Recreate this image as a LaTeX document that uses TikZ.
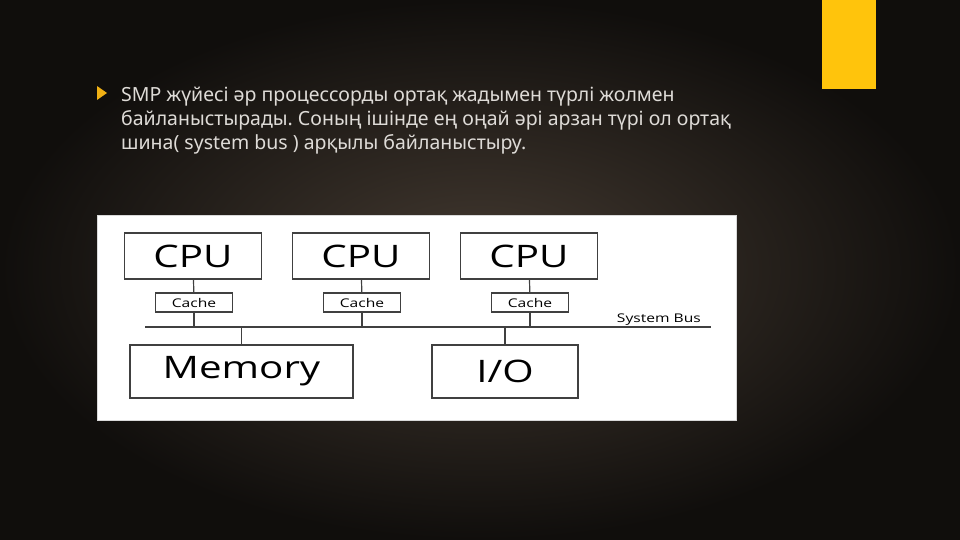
\documentclass[tikz,border=0pt]{standalone}
\usepackage{fontspec}
\usetikzlibrary{calc}
\setmainfont{Noto Sans}
\newfontfamily\diagfont[FakeStretch=1.3]{Open Sans}
\frenchspacing
\definecolor{bgdark}{RGB}{16,14,12}
\definecolor{bgmid}{RGB}{68,58,49}
\definecolor{accent}{RGB}{255,196,12}
\definecolor{bullet}{RGB}{240,176,20}
\definecolor{txt}{RGB}{222,219,215}
\definecolor{edge}{RGB}{64,64,64}

\begin{document}
\begin{tikzpicture}[x=1pt,y=-1pt,
    box/.style={draw=edge, line width=1.2pt, fill=white, inner sep=0pt},
    cpubox/.style={box, minimum width=137pt, minimum height=46pt,
        font=\diagfont\fontsize{31}{31}\selectfont},
    cachebox/.style={box, minimum width=77pt, minimum height=19pt,
        font=\diagfont\fontsize{12}{12}\selectfont},
    bigbox/.style={box, minimum height=53pt,
        font=\diagfont\fontsize{31}{31}\selectfont},
    wire/.style={draw=edge, line width=1.2pt},
    line/.style={anchor=base west, text=txt, inner sep=0pt,
        font=\fontsize{19.5}{22}\selectfont}]
        %背景
        \shade[inner color=bgmid, outer color=bgdark] (0,0) rectangle (960,540);
        \useasboundingbox (0,0) rectangle (960,540);
        \fill[accent] (822,0) rectangle (876,89);
        %本文
        \fill[bullet] (97,86)--(107,93)--(97,100)--cycle;
        \node[line] (line1) at (121,102) {SMP жүйесі әр процессорды ортақ жадымен түрлі жолмен};
        \node[line] (line2) at (121,126) {байланыстырады. Соның ішінде ең оңай әрі арзан түрі ол ортақ};
        \node[line] (line3) at (121,150) {шина( system bus ) арқылы байланыстыру.};
        %図の白地
        \fill[white, draw=black!15] (97,215) rectangle (736,420);
        %CPUとキャッシュ
        \node[cpubox] (cpu1) at (193,256) {CPU};
        \node[cpubox] (cpu2) at (361,256) {CPU};
        \node[cpubox] (cpu3) at (529,256) {CPU};
        \foreach \i in {1,2,3} {
            \node[cachebox] (cache\i) at ($(cpu\i)+(1,46.5)$) {Cache};
        }
        %システムバス
        \coordinate (busL) at (145,327);
        \coordinate (busR) at (711,327);
        \draw[wire] (busL)--(busR);
        \node[font=\diagfont\fontsize{12}{12}\selectfont, anchor=base east, inner sep=0pt]
            (buslabel) at (701,322) {System Bus};
        \foreach \i in {1,2,3} {
            \draw[wire] (cpu\i)--(cache\i);
            \draw[wire] (cache\i)--(cache\i |- busL);
        }
        %メモリとI/O
        \node[bigbox, minimum width=223pt] (mem) at (241.5,371.5) {Memory};
        \node[bigbox, minimum width=146pt] (io) at (505,371.5) {I/O};
        \draw[wire] (mem)--(mem |- busL);
        \draw[wire] (io)--(io |- busL);
    \end{tikzpicture}
\end{document}
